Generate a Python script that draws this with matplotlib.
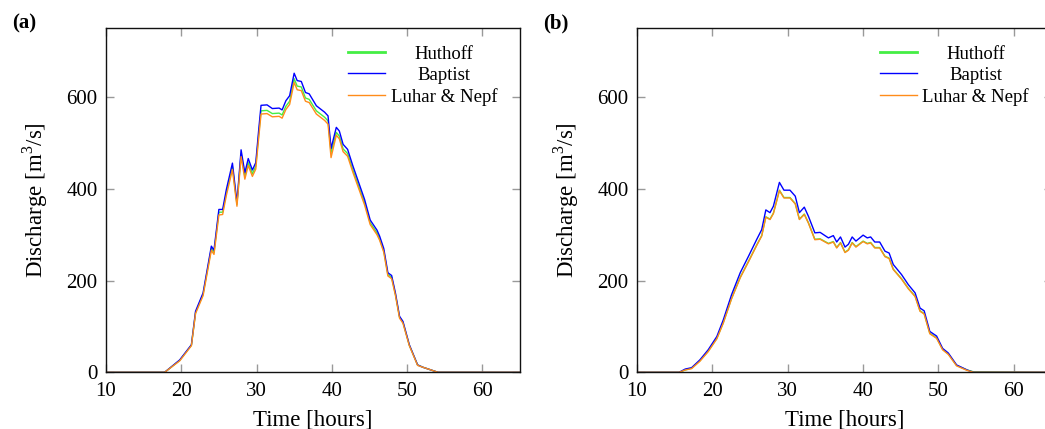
import matplotlib
matplotlib.use("Agg")
import matplotlib.pyplot as plt

plt.rcParams["font.family"] = ["Liberation Serif", "DejaVu Serif"]
plt.rcParams["mathtext.fontset"] = "custom"
plt.rcParams["mathtext.rm"] = "Liberation Serif"

# panel (a)
time_a = [10, 17.8, 19.8, 21.35, 21.9, 22.9, 24.0, 24.35, 25.0, 25.5,
          26.0, 26.8, 27.4, 27.95, 28.45, 28.9, 29.45, 29.9, 30.3, 30.6,
          31.4, 32.1, 33.0, 33.4, 33.9, 34.4, 35.0, 35.4, 35.95, 36.5,
          37.0, 37.95, 39.05, 39.5, 39.9, 40.6, 41.0, 41.5, 42.1, 42.8,
          44.35, 45.1, 46.0, 46.35, 46.9, 47.45, 47.95, 48.45, 49.0, 49.45,
          50.3, 51.4, 52.1, 54.1, 65]
baptist_a = [0, 0, 27, 60, 133, 173, 275, 266, 355, 355,
             399, 456, 370, 485, 435, 466, 441, 457, 530, 582,
             583, 575, 576, 572, 592, 603, 652, 636, 634, 610,
             607, 581, 567, 559, 488, 534, 526, 497, 486, 450,
             377, 332, 310, 297, 270, 217, 211, 173, 122, 111,
             60, 16, 11, 0, 0]
huthoff_a = [0, 0, 26, 59, 130, 170, 270, 261, 349, 349,
             392, 448, 366, 476, 427, 457, 433, 449, 520, 570,
             571, 564, 565, 561, 580, 591, 640, 624, 622, 598,
             595, 570, 556, 548, 479, 523, 515, 487, 477, 441,
             370, 326, 304, 291, 265, 213, 207, 170, 120, 109,
             59, 16, 11, 0, 0]
luhar_a = [0, 0, 25, 58, 128, 167, 266, 257, 343, 344,
           386, 442, 362, 470, 421, 451, 427, 443, 513, 563,
           564, 557, 558, 554, 573, 584, 632, 616, 614, 591,
           588, 563, 549, 541, 468, 517, 509, 481, 471, 436,
           365, 322, 300, 288, 262, 210, 204, 168, 118, 107,
           58, 15, 11, 0, 0]

# panel (b)
time_b = [10, 15.6, 16.4, 17.25, 18.35, 19.45, 20.6, 21.45, 22.55, 23.7,
          24.8, 25.9, 26.55, 27.1, 27.65, 28.1, 28.9, 29.5, 30.3, 31.0,
          31.55, 32.2, 32.75, 33.6, 34.3, 35.4, 36.05, 36.5, 37.0, 37.6,
          38.05, 38.55, 39.05, 40.0, 40.55, 41.0, 41.55, 42.2, 42.9, 43.45,
          44.0, 45.1, 46.0, 46.9, 47.55, 48.1, 48.85, 49.75, 50.55, 51.3,
          52.4, 53.8, 54.65, 65]
baptist_b = [0, 0, 7, 10, 27, 49, 78, 114, 169, 217,
             253, 290, 311, 354, 348, 362, 414, 397, 397, 384,
             348, 360, 340, 304, 305, 293, 298, 284, 295, 273,
             279, 295, 286, 299, 293, 295, 284, 284, 264, 260,
             235, 213, 191, 173, 140, 134, 89, 79, 52, 42,
             16, 5, 0, 0]
huthoff_b = [0, 0, 5, 9, 25, 46, 74, 108, 161, 207,
             242, 278, 298, 339, 334, 347, 397, 381, 381, 368,
             334, 345, 326, 290, 291, 281, 285, 272, 283, 262,
             267, 283, 274, 286, 281, 283, 272, 272, 253, 249,
             225, 204, 183, 166, 134, 128, 85, 75, 50, 40,
             15, 5, 1, 0]
luhar_b = [0, 0, 5, 8, 24, 45, 73, 107, 160, 206,
           241, 277, 297, 338, 333, 346, 396, 380, 380, 367,
           333, 344, 325, 289, 290, 280, 284, 271, 282, 261,
           266, 282, 273, 285, 280, 282, 271, 271, 252, 248,
           224, 203, 182, 165, 133, 127, 84, 74, 49, 39,
           14, 4, 0, 0]

x_ticks = [10, 20, 30, 40, 50, 60]
y_ticks = [0, 200, 400, 600]
names = ["Huthoff", "Baptist", "Luhar & Nepf"]
colors = ["#44ee44", "#0000ff", "#ff8c1a"]

fig = plt.figure(figsize=(10.45, 4.29), dpi=100)
ax_a = fig.add_axes([0.1014, 0.1322, 0.3962, 0.8019])
ax_b = fig.add_axes([0.6095, 0.1322, 0.3968, 0.8019])


def draw_panel(ax, t, series, tag):
    for vals, name, c in zip(series, names, colors):
        ax.plot(t, vals, color=c, lw=1.0, label=name)
    ax.set_xlim(10, 65)
    ax.set_ylim(0, 750)
    ax.set_xticks(x_ticks)
    ax.set_yticks(y_ticks)
    ax.tick_params(direction="in", length=6, width=1, color="#999999",
                   top=True, right=True, labelsize=15)
    ax.tick_params(axis="x", pad=7)
    ax.tick_params(axis="y", pad=6)
    for sp in ax.spines.values():
        sp.set_linewidth(1.0)
        sp.set_color("#111111")
    ax.set_xlabel("Time [hours]", fontsize=16.5, labelpad=6)
    ax.set_ylabel("Discharge [m$^3$/s]", fontsize=16.5, labelpad=12)
    leg = ax.legend(loc="upper right", bbox_to_anchor=(0.945, 0.95),
                    frameon=False, fontsize=13.5, handlelength=1.95,
                    handletextpad=0.3, labelspacing=0.22, borderpad=0,
                    borderaxespad=0)
    leg.get_lines()[0].set_linewidth(2.0)
    # center the legend texts like the original
    fig.canvas.draw()
    r = fig.canvas.get_renderer()
    texts = leg.get_texts()
    widths = [tx.get_window_extent(r).width for tx in texts]
    wmax = max(widths)
    for tx, w in zip(texts, widths):
        tx.set_position(((wmax - w) / 2, 0))
    fig.text(ax.get_position().x0 - 0.09, 0.945, tag, fontsize=15,
             fontweight="bold", va="center")


draw_panel(ax_a, time_a, [huthoff_a, baptist_a, luhar_a], "(a)")
draw_panel(ax_b, time_b, [huthoff_b, baptist_b, luhar_b], "(b)")

fig.savefig("out.png", dpi=100)
